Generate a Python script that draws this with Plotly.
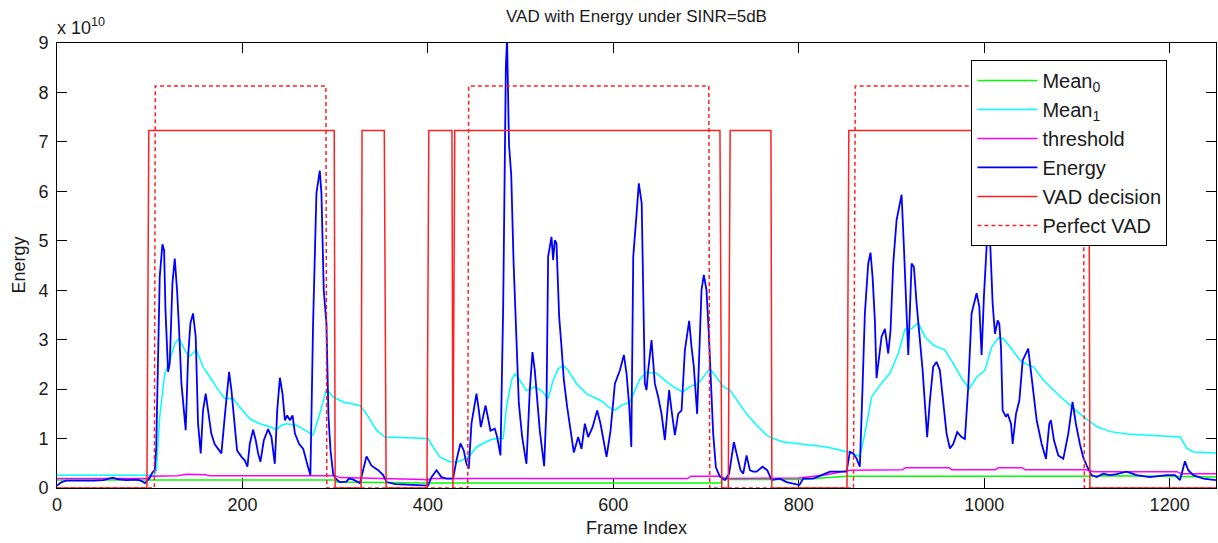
import plotly.graph_objects as go

# ---------------- data (energy values in units of 1e10) ----------------
energy_frames = [0, 5, 10, 20, 30, 40, 50, 60, 65, 75, 85, 90, 95, 100, 103, 105.4, 107, 109, 110.8, 113.7,
                 115.5, 117, 119.8, 121.6, 124.5, 127, 129.5, 131.7, 134.2, 138.8, 141.4, 143.9, 146.7, 149.6,
                 152.1, 155, 157.5, 160.4, 162.8, 166.4, 170, 173.6, 177.3, 180.9, 185.6, 188.1, 191, 194.2,
                 199, 202.5, 205.4, 207.9, 211.5, 214.4, 216.9, 219.4, 223, 227.7, 231.3, 234.9, 237.5, 240.4,
                 243.2, 245.8, 248.3, 251.2, 254.1, 256.6, 261.2, 265.6, 269.2, 273.3, 276.2, 279.8, 283.4,
                 285.2, 287.7, 290.6, 292.8, 295, 297.8, 300, 305, 312, 315, 319.6, 326.7, 330.3, 333.8, 339.2,
                 346.4, 351.8, 355.4, 365, 380, 395, 400.2, 403.9, 409.3, 414.6, 420, 427.2, 430.8, 435.1,
                 438.7, 441.6, 444.1, 447, 452.4, 455, 457.1, 462.2, 465, 467.5, 472.2, 474.7, 478.3, 481.2,
                 484.1, 485.4, 487.5, 489.9, 492.4, 495.3, 498.1, 501.7, 506.3, 509.9, 512.8, 515.3, 517.8,
                 520.7, 525.4, 527.9, 529.7, 533.3, 535.1, 536.9, 538.7, 541.6, 544.1, 546.6, 550.2, 553.8,
                 557.4, 562.1, 565.7, 569.3, 572.9, 577.6, 582.6, 586.2, 589.1, 592.7, 597, 601.7, 607.1,
                 611.4, 614.3, 617.2, 619.4, 621.5, 625.1, 627.5, 630.6, 632.2, 634, 635.8, 637.6, 641.2,
                 644.8, 648.4, 652, 655.6, 660.2, 662.8, 666.4, 670, 673.6, 677.2, 681.8, 684.3, 686.8, 690.4,
                 692.6, 695.1, 697.6, 700.5, 703, 705.2, 707.7, 710.6, 714.9, 720.3, 724.9, 730, 732.9, 737.2,
                 740.1, 743.7, 747.3, 750.9, 754.5, 760.9, 766, 770.7, 779.7, 786.9, 794.1, 800.6, 804.9,
                 815.7, 824.7, 833.7, 844.4, 851.6, 855.1, 858.7, 862.3, 865.9, 868.8, 871.3, 874.9, 877.4,
                 879.6, 882.1, 883.9, 886.8, 889.3, 892.9, 896.5, 899, 901.9, 905.5, 910.9, 913.4, 916.3,
                 918.1, 921.7, 924.2, 927.1, 930.7, 933.6, 938.5, 941.4, 945, 948.6, 952.2, 955.8, 959.4, 963,
                 966.6, 970.9, 975.6, 979.2, 982.8, 986.4, 991.8, 994.7, 997.2, 999.7, 1002.6, 1005.5, 1007.3,
                 1009.1, 1011.6, 1014.5, 1016.3, 1018.1, 1019.9, 1023.5, 1025.3, 1028.9, 1030.7, 1034.3,
                 1037.9, 1041.5, 1047.5, 1049.4, 1053, 1056.6, 1062, 1066.6, 1070.2, 1072, 1075.3, 1079.9,
                 1085.3, 1090.7, 1095.3, 1098.9, 1103.2, 1106.8, 1111.1, 1115.8, 1121.2, 1128.4, 1135.6,
                 1142.8, 1153.6, 1164.4, 1178.8, 1196.8, 1205.8, 1211.2, 1216.5, 1220.1, 1225.5, 1236.3, 1250]
energy_values = [0.05, 0.12, 0.15, 0.15, 0.14, 0.15, 0.16, 0.21, 0.18, 0.16, 0.17, 0.15, 0.10, 0.2, 0.32, 0.36,
                 0.8, 2.92, 4.27, 4.93, 4.81, 3.6, 2.35, 2.52, 4.14, 4.64, 4.0, 3.19, 2.11, 1.17, 2.66, 3.33,
                 3.53, 3.06, 1.31, 0.70, 1.57, 1.91, 1.57, 1.10, 0.89, 0.79, 0.70, 1.44, 2.35, 1.98, 1.37, 0.76,
                 0.63, 0.56, 0.43, 0.89, 1.18, 0.96, 0.70, 0.53, 0.96, 1.19, 1.03, 0.49, 1.57, 2.23, 1.91, 1.37,
                 1.47, 1.37, 1.47, 1.10, 0.89, 0.79, 0.53, 0.26, 3.33, 5.96, 6.42, 5.96, 4.0, 3.33, 1.44, 0.76,
                 0.29, 0.2, 0.12, 0.13, 0.19, 0.17, 0.1, 0.36, 0.64, 0.45, 0.36, 0.26, 0.12, 0.08, 0.07, 0.05,
                 0.05, 0.22, 0.36, 0.22, 0.19, 0.19, 0.56, 0.90, 0.76, 0.49, 0.39, 1.3, 1.91, 1.57, 1.23, 1.67,
                 1.43, 1.16, 1.20, 1.03, 0.66, 3.66, 8.52, 9.1, 6.94, 6.33, 4.58, 2.99, 1.71, 1.03, 0.49, 1.97,
                 2.75, 2.38, 1.78, 1.16, 0.44, 1.64, 4.68, 5.08, 4.61, 5.01, 4.95, 3.46, 2.86, 2.19, 1.64, 1.16,
                 0.72, 1.03, 0.79, 1.30, 1.03, 1.23, 1.57, 1.30, 0.97, 0.63, 1.16, 2.11, 2.38, 2.69, 2.31, 1.64,
                 0.83, 4.68, 5.55, 6.16, 5.76, 3.53, 2.11, 1.98, 2.38, 2.99, 2.11, 1.84, 1.50, 0.97, 1.98, 1.57,
                 1.07, 1.50, 1.57, 2.79, 3.38, 2.86, 2.46, 1.50, 2.65, 4.0, 4.31, 4.0, 3.12, 2.11, 1.10, 0.42,
                 0.23, 0.16, 0.29, 0.93, 0.70, 0.36, 0.29, 0.66, 0.36, 0.33, 0.33, 0.43, 0.36, 0.16, 0.19, 0.12,
                 0.09, 0.06, 0.19, 0.19, 0.26, 0.33, 0.33, 0.33, 0.73, 0.70, 0.60, 0.43, 2.05, 3.53, 4.54, 4.76,
                 4.27, 3.39, 2.22, 2.72, 3.06, 3.22, 2.72, 3.19, 4.54, 5.42, 5.93, 4.88, 3.26, 2.69, 4.54, 4.47,
                 3.73, 3.06, 2.38, 1.03, 1.77, 2.45, 2.55, 2.38, 1.77, 1.10, 0.80, 0.89, 1.13, 1.03, 0.99, 2.05,
                 3.53, 3.94, 3.67, 2.69, 3.87, 4.88, 5.4, 4.54, 3.73, 3.12, 3.39, 3.32, 2.85, 1.57, 1.44, 1.50,
                 1.30, 0.89, 1.50, 1.77, 2.58, 2.82, 2.51, 1.91, 1.37, 0.89, 0.59, 1.30, 1.37, 0.96, 0.66, 0.59,
                 1.10, 1.74, 1.30, 0.89, 0.62, 0.43, 0.26, 0.22, 0.29, 0.26, 0.28, 0.33, 0.26, 0.22, 0.26, 0.26,
                 0.16, 0.54, 0.36, 0.26, 0.19, 0.16]

mean0_frames = [0, 300, 302, 390, 400, 716, 717, 800, 830, 852, 1110, 1130, 1200, 1250]
mean0_values = [0.16, 0.16, 0.12, 0.10, 0.10, 0.10, 0.17, 0.17, 0.21, 0.24, 0.24, 0.25, 0.24, 0.22]

mean1_frames = [0, 105, 107.2, 110.8, 116.2, 121.6, 127, 131.7, 137.8, 142.5, 150.4, 157.5, 164.7, 171.9,
                180.9, 189.9, 197.1, 207.9, 218.7, 229.5, 236.7, 242.1, 247.5, 258.3, 267.3, 276.2, 283.4,
                290.6, 297.8, 308.6, 326.6, 333.8, 344.6, 353.6, 369.8, 400.2, 405.5, 412.7, 423.5, 432.5,
                441.6, 447, 452.4, 459.6, 466.8, 474, 481.2, 484.8, 490.2, 493.8, 499.2, 506.3, 515.3, 522.5,
                529.7, 535.1, 540.5, 545.9, 551.3, 560.3, 571.1, 581.8, 589, 594.4, 601.7, 608.9, 617.8,
                623.2, 628.6, 635.8, 646.6, 657.4, 664.6, 674.7, 682.5, 691.5, 698.7, 704.1, 711.3, 718.5,
                725.7, 732.9, 743.7, 754.5, 765.3, 772.5, 783.3, 797.7, 815.7, 830.1, 844.4, 855, 865.9,
                871.3, 878.5, 887.5, 898.3, 907.3, 914.5, 921.7, 928.9, 936.1, 945, 957.6, 966.6, 975.6,
                983.9, 991.8, 1000.8, 1008, 1015.4, 1020.8, 1028, 1038.8, 1046, 1053.2, 1064, 1078.4, 1094.5,
                1107.1, 1121.5, 1135.9, 1153.9, 1179, 1211.4, 1218.6, 1225.8, 1250]
mean1_values = [0.26, 0.26, 0.36, 1.44, 2.31, 2.58, 2.92, 3.02, 2.79, 2.66, 2.79, 2.45, 2.25, 2.04, 1.81, 1.81,
                1.64, 1.40, 1.30, 1.24, 1.18, 1.27, 1.30, 1.27, 1.17, 1.07, 1.5, 2.0, 1.84, 1.74, 1.67, 1.50,
                1.17, 1.03, 1.02, 1.0, 0.83, 0.63, 0.53, 0.53, 0.60, 0.70, 0.83, 0.90, 0.97, 1.0, 1.0, 1.64,
                2.18, 2.31, 2.18, 1.97, 2.04, 1.97, 1.81, 2.18, 2.41, 2.48, 2.38, 2.11, 1.91, 1.81, 1.74, 1.64,
                1.57, 1.67, 1.74, 1.97, 2.2, 2.34, 2.32, 2.15, 2.05, 1.94, 2.05, 2.11, 2.28, 2.41, 2.24, 2.05,
                1.98, 1.78, 1.50, 1.27, 1.07, 1.0, 0.93, 0.90, 0.86, 0.83, 0.77, 0.72, 0.64, 1.10, 1.84, 2.08,
                2.32, 2.72, 3.21, 3.22, 3.34, 3.06, 2.89, 2.79, 2.52, 2.22, 2.01, 2.24, 2.38, 2.85, 3.04, 3.02,
                2.85, 2.58, 2.50, 2.45, 2.18, 1.91, 1.64, 1.44, 1.24, 1.14, 1.09, 1.07, 1.03, 0.80, 0.73, 0.71]

threshold_frames = [0, 98, 100, 130, 140, 160, 165, 300, 305, 360, 395, 400, 403, 680, 684, 716, 720, 800,
                    830, 852, 856, 912, 915, 962, 965, 1012, 1015, 1041, 1044, 1110, 1118, 1208, 1212, 1250]
threshold_values = [0.19, 0.19, 0.24, 0.25, 0.28, 0.27, 0.25, 0.25, 0.21, 0.19, 0.17, 0.16, 0.19, 0.19,
                    0.24, 0.24, 0.19, 0.20, 0.27, 0.35, 0.36, 0.37, 0.41, 0.41, 0.37, 0.37, 0.41, 0.41,
                    0.37, 0.37, 0.33, 0.33, 0.29, 0.29]

vad_frames = [0, 97, 98, 99, 299, 300, 328, 329, 353, 354, 355, 399, 400, 401, 426, 427, 428, 429,
              715, 716, 717, 724, 725, 726, 770, 771, 852, 853, 854, 1113, 1114, 1250]
vad_values = [0, 0, 3.62, 7.23, 7.23, 0, 0, 7.23, 7.23, 3.62, 0, 0, 3.62, 7.23, 7.23, 0, 3.62, 7.23,
              7.23, 3.62, 0, 0, 3.62, 7.23, 7.23, 0, 0, 3.62, 7.23, 7.23, 0, 0]

perfect_frames = [0, 105, 106, 290, 291, 443, 444, 703, 704, 859, 860, 861, 1107, 1108, 1250]
perfect_values = [0, 0, 8.13, 8.13, 0, 0, 8.13, 8.13, 0, 0, 4.07, 8.13, 8.13, 0, 0]

x_ticks = [0, 200, 400, 600, 800, 1000, 1200]
y_ticks = [0, 1, 2, 3, 4, 5, 6, 7, 8, 9]

FONT = "Liberation Sans, Arial, sans-serif"
TXT = "#1a1a1a"

fig = go.Figure()
fig.add_trace(go.Scatter(x=mean0_frames, y=mean0_values, mode="lines", name="Mean<sub>0</sub>",
                         line=dict(color="#00ff00", width=1.5)))
fig.add_trace(go.Scatter(x=mean1_frames, y=mean1_values, mode="lines", name="Mean<sub>1</sub>",
                         line=dict(color="#00ffff", width=1.5)))
fig.add_trace(go.Scatter(x=threshold_frames, y=threshold_values, mode="lines", name="threshold",
                         line=dict(color="#ff00ff", width=1.5)))
fig.add_trace(go.Scatter(x=energy_frames, y=energy_values, mode="lines", name="Energy",
                         line=dict(color="#0000ff", width=1.8)))
fig.add_trace(go.Scatter(x=vad_frames, y=vad_values, mode="lines", name="VAD decision",
                         line=dict(color="#ff2020", width=1.5)))
fig.add_trace(go.Scatter(x=perfect_frames, y=perfect_values, mode="lines", name="Perfect VAD",
                         line=dict(color="#ff2020", width=1.5, dash="4px,3px")))

axis_common = dict(showgrid=False, zeroline=False, showline=True, linecolor="black", linewidth=1,
                   mirror="ticks", ticks="inside", ticklen=10, tickcolor="black", tickwidth=1,
                   tickfont=dict(family=FONT, size=18, color=TXT), layer="below traces",
                   automargin=False)
fig.update_xaxes(range=[0, 1250], tickvals=x_ticks, ticktext=[str(v) for v in x_ticks], **axis_common)
fig.update_yaxes(range=[0, 9], tickvals=y_ticks, ticktext=[str(v) for v in y_ticks],
                 ticklabelstandoff=4, **axis_common)

fig.update_layout(
    width=1218, height=543,
    margin=dict(l=57, r=2, t=43, b=55, autoexpand=False),
    paper_bgcolor="white", plot_bgcolor="white",
    font=dict(family=FONT, size=18, color=TXT),
    showlegend=True,
    legend=dict(x=0.789, y=0.962, xanchor="left", yanchor="top", bgcolor="white",
                bordercolor="black", borderwidth=1, font=dict(family=FONT, size=20, color=TXT),
                itemwidth=60, tracegroupgap=0),
    annotations=[
        dict(text="VAD with Energy under SINR=5dB", xref="paper", yref="paper", x=0.5, y=1,
             xanchor="center", yanchor="bottom", yshift=15, showarrow=False,
             font=dict(family=FONT, size=17, color=TXT)),
        dict(text="x 10<sup>10</sup>", xref="paper", yref="paper", x=0, y=1, xanchor="left",
             yanchor="bottom", xshift=-2, yshift=3, showarrow=False,
             font=dict(family=FONT, size=18, color=TXT)),
        dict(text="Frame Index", xref="paper", yref="paper", x=0.5, y=0, xanchor="center",
             yanchor="top", yshift=-28, showarrow=False,
             font=dict(family=FONT, size=18, color=TXT)),
        dict(text="Energy", xref="paper", yref="paper", x=0, y=0.5, xanchor="center",
             yanchor="middle", xshift=-39, textangle=-90, showarrow=False,
             font=dict(family=FONT, size=18, color=TXT)),
    ],
)

fig.write_html("out.html", config={"displayModeBar": False},
               post_script="document.body.style.margin='0px';")
